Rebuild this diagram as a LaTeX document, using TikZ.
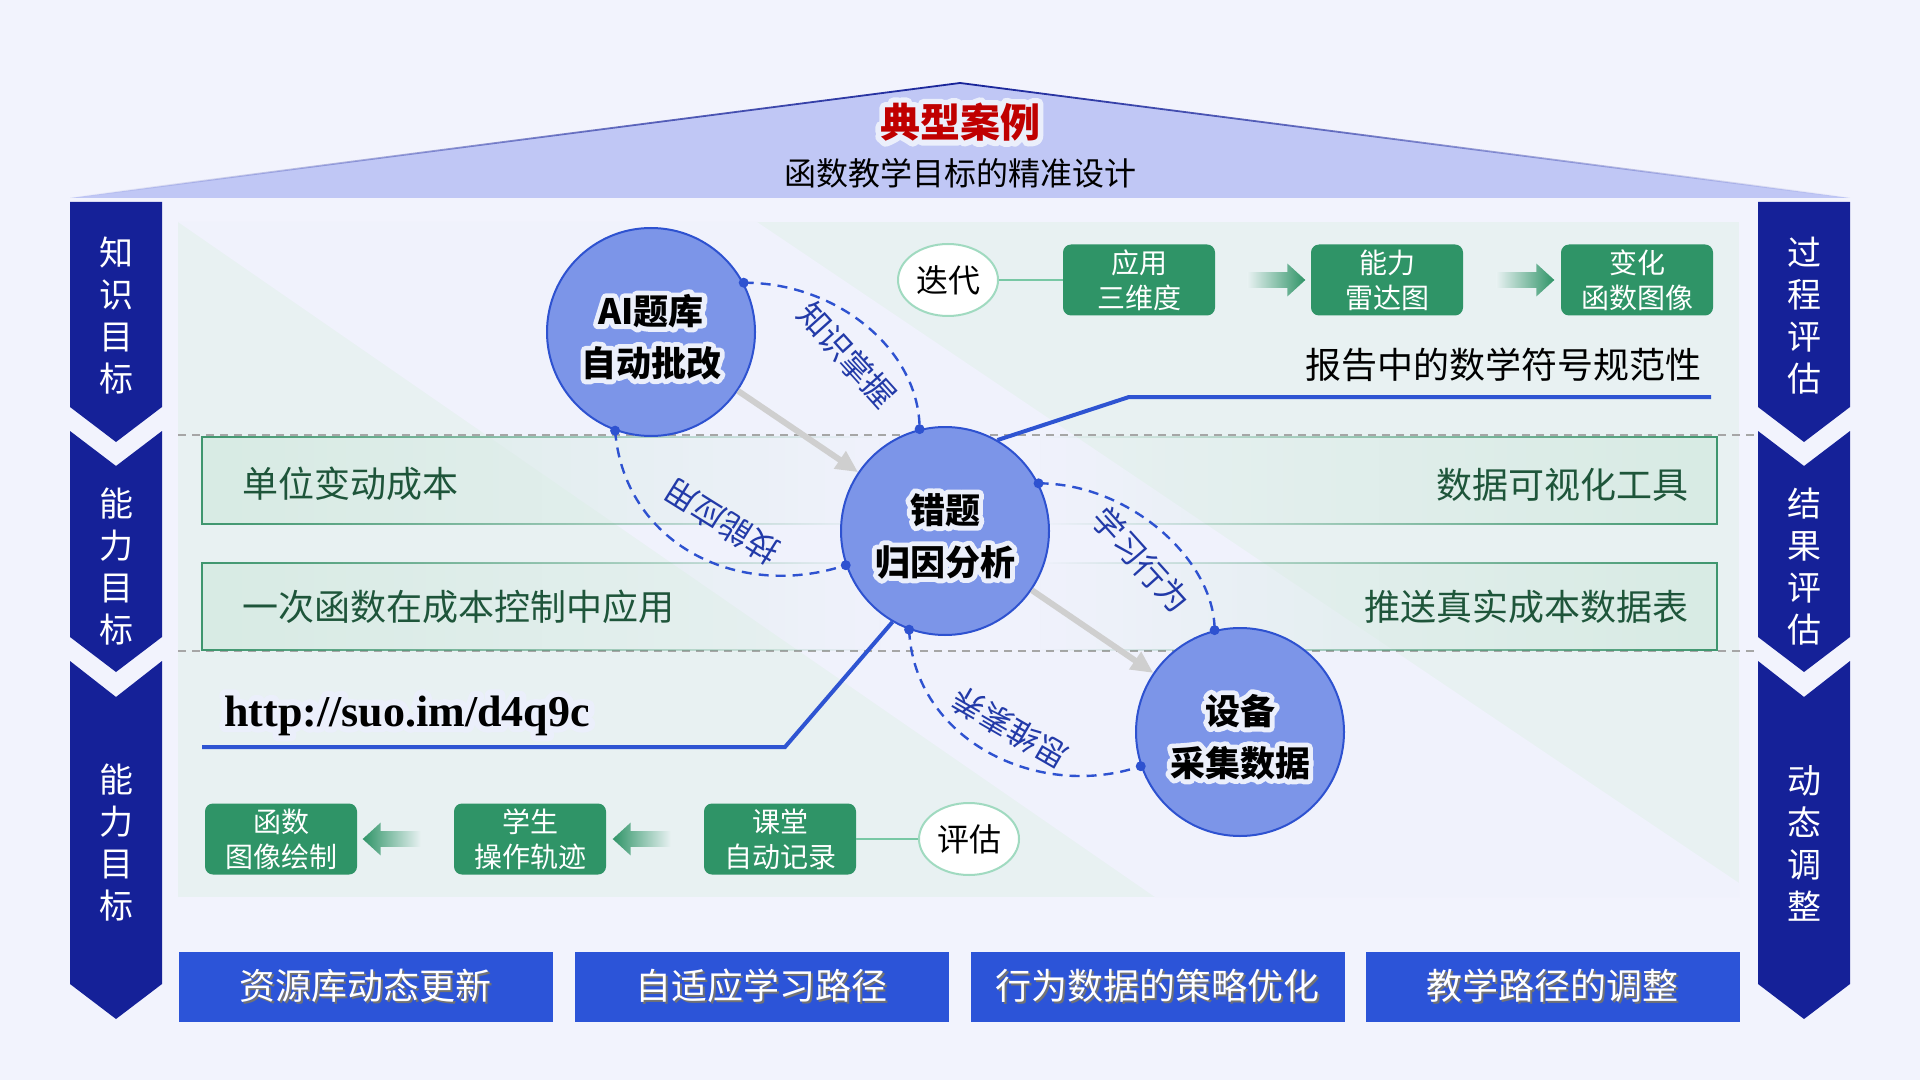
\documentclass[tikz,border=0pt]{standalone}
\usepackage{fontspec}
\setmainfont{Noto Sans CJK SC}
\newfontfamily\urlfont{Liberation Serif}
\usetikzlibrary{positioning,calc,arrows.meta,fadings,shapes.geometric,shapes.arrows}

\definecolor{pagebg}{RGB}{242,243,253}
\definecolor{roof}{RGB}{192,199,245}
\definecolor{navy}{RGB}{21,33,152}
\definecolor{panelg}{RGB}{232,241,242}
\definecolor{panelv}{RGB}{240,242,252}
\definecolor{hubfill}{RGB}{124,149,232}
\definecolor{hubline}{RGB}{46,82,208}
\definecolor{arclabel}{RGB}{34,58,168}
\definecolor{stripfill}{RGB}{216,235,228}
\definecolor{stripline}{RGB}{62,150,110}
\definecolor{striptext}{RGB}{30,85,58}
\definecolor{boxgreen}{RGB}{47,148,103}
\definecolor{ringgreen}{RGB}{160,218,192}
\definecolor{linkgreen}{RGB}{120,200,165}
\definecolor{tabblue}{RGB}{44,84,216}
\definecolor{titlered}{RGB}{192,0,0}
\definecolor{bluelink}{RGB}{46,84,210}

\tikzfading[name=fade right, left color=transparent!0, right color=transparent!100]
\tikzfading[name=fade left, left color=transparent!100, right color=transparent!0]

% white halo behind a text
\newcommand\halo[1]{\makebox[0pt][l]{\special{pdf:literal direct 1 j}\addfontfeatures{FakeBold=28}\textcolor{white!85!hubfill}{#1}}#1}
\newcommand\hubtext[2]{\rule{0pt}{20pt}\halo{#1}\\\halo{#2}}
\newcommand\dropshade[1]{\makebox[0pt][l]{\hspace{0.8pt}\raisebox{-0.8pt}{\textcolor{black!55}{#1}}}#1}

\begin{document}
\begin{tikzpicture}[x=0.5pt,y=-0.5pt,
  hub/.style={circle,draw=hubline,line width=1pt,fill=hubfill,minimum size=104pt,inner sep=0pt,align=center,font=\bfseries\fontsize{17.5}{26}\selectfont},
  arc/.style={hubline,line width=1.2pt,dash pattern=on 5pt off 3.5pt},
  arclbl/.style={text=arclabel,font=\fontsize{16}{18}\selectfont,inner sep=0pt},
  grayarrow/.style={draw=black!19,line width=3pt,-{Triangle[length=11pt,width=10pt]}},
  link/.style={bluelink,line width=2pt},
  gbox/.style={rounded corners=4pt,fill=boxgreen,text=white,align=center,minimum width=76pt,minimum height=35.5pt,inner sep=0pt,font=\fontsize{14}{17.5}\selectfont},
  ring/.style={ellipse,draw=ringgreen,line width=1pt,fill=white,minimum width=50pt,minimum height=36pt,inner sep=0pt,font=\fontsize{16}{18}\selectfont},
  garrow/.style={single arrow,draw=none,minimum height=29pt,inner sep=3.75pt,single arrow head extend=4.25pt,single arrow tip angle=85},
  strip/.style={text=striptext,font=\fontsize{18}{20}\selectfont,inner sep=0pt},
  tab/.style={fill=tabblue,text=white,minimum width=187pt,minimum height=35pt,inner sep=0pt,font=\fontsize{18}{20}\selectfont},
  chevtext/.style={text=white,align=center,font=\fontsize{17}{21}\selectfont,inner sep=0pt}
]

% page and roof
\fill[pagebg] (0,0) rectangle (1920,1080);
\fill[roof] (70,198) -- (960,83) -- (1850,198) -- cycle;
\draw[navy,line width=0.9pt,path fading=fade left] (70,198) -- (960,83);
\draw[navy,line width=0.9pt,path fading=fade right] (960,83) -- (1850,198);
\node[font=\bfseries\fontsize{20}{22}\selectfont,text=titlered] (title) at (960,122) {\halo{典型案例}};
\node[font=\fontsize{16}{18}\selectfont] (subtitle) at (960,173) {函数教学目标的精准设计};

% side chevrons
\foreach \xl in {70,1758}{
  \fill[navy] (\xl,202) -- ++(92,0) -- ++(0,205) -- ++(-46,35) -- ++(-46,-35) -- cycle;
  \fill[navy] (\xl,431) -- ++(46,35) -- ++(46,-35) -- ++(0,206) -- ++(-46,35) -- ++(-46,-35) -- cycle;
  \fill[navy] (\xl,661) -- ++(46,36) -- ++(46,-36) -- ++(0,323) -- ++(-46,35) -- ++(-46,-35) -- cycle;
}
\node[chevtext] (k1) at (116,316) {知\\识\\目\\标};
\node[chevtext] (k2) at (116,567) {能\\力\\目\\标};
\node[chevtext] (k3) at (116,843) {能\\力\\目\\标};
\node[chevtext] (e1) at (1804,316) {过\\程\\评\\估};
\node[chevtext] (e2) at (1804,567) {结\\果\\评\\估};
\node[chevtext] (e3) at (1804,843) {动\\态\\调\\整};

% panel
\fill[panelg] (178,222) rectangle (1739,897);
\fill[panelv] (178,222) -- (757,222) -- (1739,883) -- (1739,897) -- (1155,897) -- cycle;
\draw[gray!70,line width=0.8pt,dash pattern=on 4pt off 3pt] (178,435) -- (1757,435);
\draw[gray!70,line width=0.8pt,dash pattern=on 4pt off 3pt] (178,651) -- (1757,651);

% strips
\draw[stripline,fill=stripfill,line width=0.8pt,path fading=fade right] (202,437) rectangle (880,524);
\draw[stripline,fill=stripfill,line width=0.8pt,path fading=fade right] (202,563) rectangle (880,650);
\draw[stripline,fill=stripfill,line width=0.8pt,path fading=fade left] (1040,437) rectangle (1717,524);
\draw[stripline,fill=stripfill,line width=0.8pt,path fading=fade left] (1040,563) rectangle (1717,650);
\node[strip,anchor=west] (s1) at (242,484) {单位变动成本};
\node[strip,anchor=west] (s2) at (242,607) {一次函数在成本控制中应用};
\node[strip,anchor=east] (s3) at (1689,485) {数据可视化工具};
\node[strip,anchor=east] (s4) at (1689,607) {推送真实成本数据表};

% hubs
\node[hub] (ai) at (651,332) {\hubtext{AI题库}{自动批改}};
\node[hub] (ct) at (945,531) {\hubtext{错题}{归因分析}};
\node[hub] (sb) at (1240,732) {\hubtext{设备}{采集数据}};

% blue links
\coordinate (r1) at (1129,397);
\coordinate (r2) at (1711,397);
\coordinate (l1) at (785,747);
\coordinate (l2) at (202,747);
\draw[link] (ct.60) -- (r1) -- (r2);
\draw[link] (ct.240) -- (l1) -- (l2);
\node[font=\fontsize{18}{20}\selectfont,anchor=east,inner sep=0pt] (report) at (1702,365) {报告中的数学符号规范性};
\node[anchor=base west,inner sep=0pt,font=\urlfont\bfseries\fontsize{22}{24}\selectfont] (url) at (224,726) {\halo{http://suo.im/d4q9c}};

% flow
\draw[grayarrow] (ai) -- (ct);
\draw[grayarrow] (ct) -- (sb);

% dashed arcs
\draw[arc] (ai.28) .. controls +(95,0) and +(0,-78) .. (ct.104);
\draw[arc] (ai.250) .. controls +(9,112) and +(-109,36) .. (ct.199);
\draw[arc] (ct.27) .. controls +(91,0) and +(0,-70) .. (sb.104);
\draw[arc] (ct.250) .. controls +(5,110) and +(-103,35) .. (sb.199);
\foreach \p in {ai.28,ct.104,ai.250,ct.199,ct.27,sb.104,ct.250,sb.199}
  \fill[hubline] (\p) circle (5);
\node[arclbl,rotate=-48] (know) at (847,355) {知识掌握};
\node[arclbl,rotate=148] (skill) at (722,522) {技能应用};
\node[arclbl,rotate=-48] (learn) at (1141,560) {学习行为};
\node[arclbl,rotate=150] (think) at (1010,728) {思维素养};

% top row
\node[ring] (diedai) at (948,280) {迭代};
\node[gbox] (g1) at (1139,280) {应用\\三维度};
\node[gbox] (g2) at (1387,280) {能力\\雷达图};
\node[gbox] (g3) at (1637,280) {变化\\函数图像};
\draw[linkgreen,line width=1pt] (diedai) -- (g1);
\node[garrow,left color=panelg,right color=boxgreen] (a1) at (1272,280) {};
\node[garrow,left color=panelg,right color=boxgreen] (a2) at (1521,280) {};

% bottom row
\node[ring] (pinggu) at (969,839) {评估};
\node[gbox] (c1) at (780,839) {课堂\\自动记录};
\node[gbox] (c2) at (530,839) {学生\\操作轨迹};
\node[gbox] (c3) at (281,839) {函数\\图像绘制};
\draw[linkgreen,line width=1pt] (pinggu) -- (c1);
\node[garrow,shape border rotate=180,left color=boxgreen,right color=panelg] (a3) at (646,839) {};
\node[garrow,shape border rotate=180,left color=boxgreen,right color=panelg] (a4) at (396,839) {};

% tabs
\node[tab] (t1) at (365.5,987) {\dropshade{资源库动态更新}};
\node[tab] (t2) at (761.5,987) {\dropshade{自适应学习路径}};
\node[tab] (t3) at (1157.5,987) {\dropshade{行为数据的策略优化}};
\node[tab] (t4) at (1552.5,987) {\dropshade{教学路径的调整}};

\end{tikzpicture}
\end{document}
